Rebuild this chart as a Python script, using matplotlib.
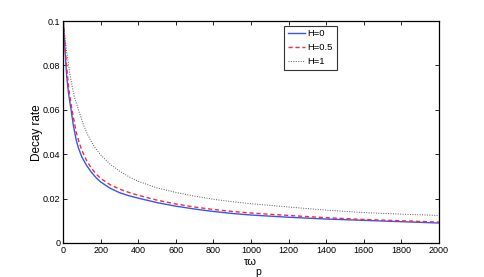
import matplotlib
matplotlib.use("Agg")
import matplotlib.pyplot as plt

plt.rcParams['font.family'] = ['Liberation Sans', 'DejaVu Sans']

x_h0 = [2, 6, 10, 15, 20, 30, 43, 55, 70, 82, 100, 125, 150, 175, 200, 250, 300, 350, 400, 500,
        600, 700, 800, 900, 1000, 1200, 1400, 1600, 1800, 2000]
y_h0 = [0.1, 0.094, 0.088, 0.081, 0.075, 0.067, 0.060, 0.053, 0.0465, 0.0428, 0.0388, 0.0350, 0.0320,
        0.0295, 0.0275, 0.0247, 0.0227, 0.0213, 0.0202, 0.0182, 0.0166, 0.0153, 0.0142, 0.0133,
        0.0126, 0.0116, 0.0108, 0.0102, 0.0096, 0.0090]

x_h05 = [2, 6, 10, 15, 20, 30, 40, 50, 70, 85, 99, 125, 150, 175, 200, 250, 300, 350, 400, 500,
         600, 700, 800, 900, 1000, 1200, 1400, 1600, 1800, 2000]
y_h05 = [0.1, 0.095, 0.09, 0.084, 0.079, 0.07, 0.064, 0.059, 0.050, 0.0455, 0.042, 0.0372, 0.0338,
         0.0312, 0.0291, 0.0263, 0.0243, 0.0228, 0.0215, 0.0193, 0.0176, 0.0162, 0.0151, 0.0142,
         0.0135, 0.0124, 0.0114, 0.0106, 0.0100, 0.0094]

x_h1 = [2, 6, 11, 20, 30, 37, 50, 60, 75, 90, 110, 130, 150, 170, 200, 250, 300, 350, 400, 500,
        600, 700, 800, 900, 1000, 1200, 1400, 1600, 1800, 2000]
y_h1 = [0.1, 0.096, 0.092, 0.086, 0.080, 0.076, 0.070, 0.066, 0.062, 0.058, 0.053, 0.049, 0.0458,
        0.0430, 0.0397, 0.0356, 0.0324, 0.0299, 0.0278, 0.0248, 0.0228, 0.0211, 0.0197, 0.0186,
        0.0177, 0.0162, 0.0148, 0.0137, 0.0130, 0.0124]

labels = ['H=0', 'H=0.5', 'H=1']
x_ticks = [0, 200, 400, 600, 800, 1000, 1200, 1400, 1600, 1800, 2000]
y_ticks = [0, 0.02, 0.04, 0.06, 0.08, 0.1]
y_ticklabels = ['0', '0.02', '0.04', '0.06', '0.08', '0.1']

fig = plt.figure(figsize=(4.85, 2.77), dpi=100)
ax = fig.add_axes([63/485, 1-243/277, 376/485, 222/277])

ax.plot(x_h0, y_h0, color='#3355ff', lw=1.0, label=labels[0])
ax.plot(x_h05, y_h05, color='#ff2a2a', lw=1.0, ls=(0, (3, 2)), label=labels[1])
ax.plot(x_h1, y_h1, color='#555555', lw=0.7, ls=(0, (1, 1.5)), label=labels[2])

ax.set_xlim(0, 2000)
ax.set_ylim(0, 0.1)
ax.set_xticks(x_ticks)
ax.set_xticklabels([str(v) for v in x_ticks])
ax.set_yticks(y_ticks)
ax.set_yticklabels(y_ticklabels)
ax.tick_params(direction='in', top=True, right=True, length=3, width=0.6, labelsize=6.5, pad=2)
for s in ax.spines.values():
    s.set_linewidth(0.9)

leg = ax.legend(loc='upper left', bbox_to_anchor=(0.588, 0.979), borderaxespad=0,
                fancybox=False, edgecolor='#333333', fontsize=6.8, handlelength=1.8,
                handletextpad=0.3, labelspacing=0.5, borderpad=0.4, framealpha=1)
leg.get_frame().set_linewidth(0.8)

fig.text(37/485, 1-133/277, 'Decay rate', rotation=90, ha='center', va='center', fontsize=8.5)
fig.text(250/485, 1-262/277, 'τω', ha='center', va='center', fontsize=8)
fig.text(258/485, 1-272/277, 'p', ha='center', va='center', fontsize=7.5)

fig.savefig('out.png', dpi=100)
